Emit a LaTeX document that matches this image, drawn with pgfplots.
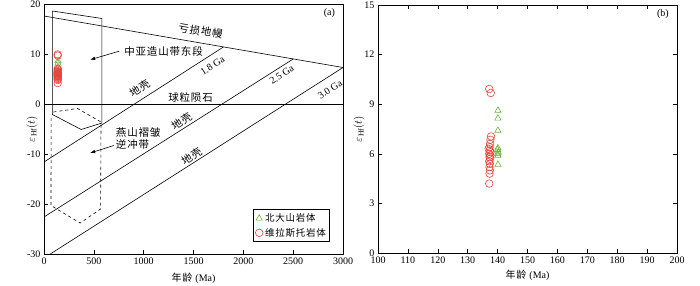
\documentclass[border=0pt]{standalone}
\usepackage{fontspec}
\setmainfont{Liberation Serif}
\newfontfamily\cjk[LetterSpace=8]{Noto Sans CJK SC}
\usepackage{pgfplots}
\usepackage{pgfplotstable}
\pgfplotsset{compat=1.18}
\usetikzlibrary{arrows.meta}
\definecolor{cred}{HTML}{E8453C}
\definecolor{cgreen}{HTML}{6DB33F}

\pgfplotstableread{
x y
137.2 9.92
137.7 9.68
137.8 7.05
137.6 6.85
137.5 6.60
137.3 6.40
137.0 6.30
137.4 6.20
137.6 6.10
137.2 6.00
137.5 5.90
137.3 5.80
137.5 5.70
137.2 5.55
137.4 5.40
137.3 5.20
137.4 5.00
137.3 4.80
137.2 4.20
}\redtab

\pgfplotstableread{
x y
140.1 8.62
140.1 8.15
140.1 7.41
140.1 6.35
140.0 6.25
140.2 6.10
140.0 6.00
140.1 5.90
140.1 5.35
}\greentab

\begin{document}
\begin{tikzpicture}
\useasboundingbox (0,0) rectangle (700pt,285pt);
\pgfplotsset{
  every axis/.append style={
    scale only axis,
    font=\fontsize{10}{12}\selectfont,
    /pgf/number format/assume math mode=true,
    /pgf/number format/1000 sep={},
    axis line style={line width=0.8pt},
    major tick length=4pt,
    tick style={line width=0.6pt, black},
  },
}
% ---------------- panel (a)
\begin{axis}[
  at={(44pt,31pt)}, anchor=south west,
  width=299pt, height=250pt,
  xmin=0, xmax=3000, ymin=-30, ymax=20,
  xtick={0,500,...,3000},
  ytick={-30,-20,...,20},
  tick align=inside,
  tick pos=left,
  xlabel={\cjk 年龄\ \rmfamily(Ma)},
  ylabel={$\varepsilon_{\mathrm{Hf}}(t)$},
  xlabel style={at={(axis description cs:0.5,-0.096)}, anchor=center},
  ylabel style={at={(axis description cs:-0.04,0.5)}, anchor=center, font=\fontsize{11}{12}\selectfont},
  legend style={at={(axis description cs:0.699,0.048)}, anchor=south west,
    draw=black, line width=0.8pt, font=\cjk\fontsize{9.5}{11}\selectfont,
    row sep=1pt, inner sep=2pt},
  legend cell align=left,
]
\addplot[only marks, mark=triangle, mark size=3.6pt, draw=cgreen, mark options={line width=0.6pt, draw=cgreen}] table[x=x,y=y] {\greentab};
\addlegendentry{北大山岩体}
\addplot[only marks, mark=o, mark size=3.8pt, draw=cred, mark options={line width=0.6pt, draw=cred}] table[x=x,y=y] {\redtab};
\addlegendentry{维拉斯托岩体}

% evolution lines
\addplot[black, line width=0.6pt, forget plot] coordinates {(0,17.6) (3000,7.3)};
\addplot[black, line width=0.6pt, forget plot] coordinates {(0,0) (3000,0)};
\addplot[black, line width=0.6pt, forget plot] coordinates {(0,-11.6) (1800,11.4)};
\addplot[black, line width=0.6pt, forget plot] coordinates {(0,-22.6) (2500,9.0)};
\addplot[black, line width=0.6pt, forget plot] coordinates {(0,-30.8) (3000,7.3)};

% fields
\addplot[black, line width=0.6pt, forget plot] coordinates {(84,18.6) (581,17.1) (581,-3.8) (373,-5.1) (84,-2.1) (84,18.6)};
\addplot[black, line width=0.6pt, dashed, forget plot] coordinates {(94,-1.6) (336,-0.9) (572,-3.6) (568,-21.0) (363,-23.8) (70,-20.3) (72,-2.4)};

% labels
\node[rotate=-9.7, font=\cjk\fontsize{10.5}{12}\selectfont] at (axis cs:1571,14.6) {亏损地幔};
\node[font=\cjk\fontsize{10.5}{12}\selectfont] at (axis cs:1470,1.3) {球粒陨石};
\node[rotate=33] at (axis cs:1690,7.6) {1.8 Ga};
\node[rotate=33] at (axis cs:2385,5.8) {2.5 Ga};
\node[rotate=33] at (axis cs:2870,2.9) {3.0 Ga};
\node[rotate=33, font=\cjk\fontsize{10.5}{12}\selectfont] at (axis cs:960,3.1) {地壳};
\node[rotate=33, font=\cjk\fontsize{10.5}{12}\selectfont] at (axis cs:1380,-3.5) {地壳};
\node[rotate=33, font=\cjk\fontsize{10.5}{12}\selectfont] at (axis cs:1480,-10.4) {地壳};
\node at (axis cs:2863,18.2) {(a)};
\node[font=\cjk\fontsize{10.5}{12}\selectfont, anchor=west] at (axis cs:770,10.6) {中亚造山带东段};
\node[font=\cjk\fontsize{10.5}{12}\selectfont, anchor=west, align=left, inner sep=0pt] at (axis cs:720,-7.0) {燕山褶皱\\逆冲带};
\draw[line width=0.6pt, -{Latex[length=5pt,width=3.5pt]}] (axis cs:755,10.57) -- (axis cs:463,8.85);
\draw[line width=0.6pt, -{Latex[length=5pt,width=3.5pt]}] (axis cs:700,-8.3) -- (axis cs:463,-9.8);
\end{axis}

% ---------------- panel (b)
\begin{axis}[
  at={(378pt,32pt)}, anchor=south west,
  width=299pt, height=248pt,
  xmin=100, xmax=200, ymin=0, ymax=15,
  xtick={100,110,...,200},
  ytick={0,3,...,15},
  tick align=inside,
  xlabel={\cjk 年龄\ \rmfamily(Ma)},
  ylabel={$\varepsilon_{\mathrm{Hf}}(t)$},
  xlabel style={at={(axis description cs:0.5,-0.092)}, anchor=center},
  ylabel style={at={(axis description cs:-0.063,0.5)}, anchor=center, font=\fontsize{11}{12}\selectfont},
]
\addplot[only marks, mark=o, mark size=3.8pt, draw=cred, mark options={line width=0.6pt, draw=cred}] table[x=x,y=y] {\redtab};
\addplot[only marks, mark=triangle, mark size=3.6pt, draw=cgreen, mark options={line width=0.6pt, draw=cgreen}] table[x=x,y=y] {\greentab};
\node at (axis cs:195.3,14.45) {(b)};
\end{axis}
\end{tikzpicture}
\end{document}
